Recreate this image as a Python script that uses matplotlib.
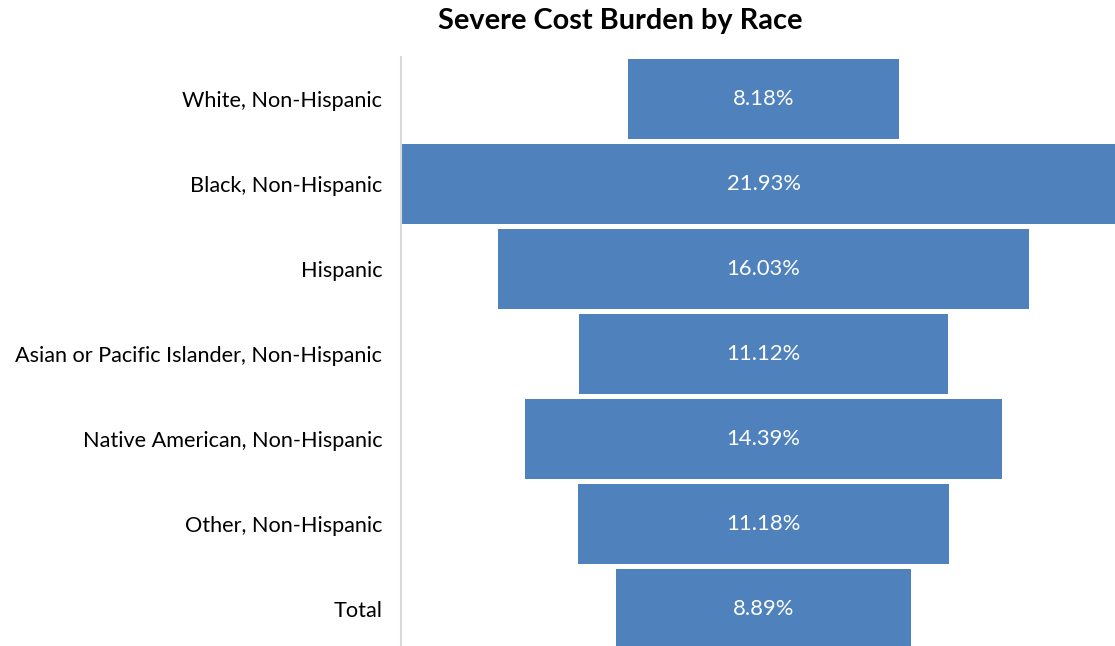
import matplotlib
matplotlib.use("Agg")
import matplotlib.pyplot as plt

categories = ["White, Non-Hispanic", "Black, Non-Hispanic", "Hispanic",
              "Asian or Pacific Islander, Non-Hispanic", "Native American, Non-Hispanic",
              "Other, Non-Hispanic", "Total"]
values = [8.18, 21.93, 16.03, 11.12, 14.39, 11.18, 8.89]
labels = ["8.18%", "21.93%", "16.03%", "11.12%", "14.39%", "11.18%", "8.89%"]
title = "Severe Cost Burden by Race"

plt.rcParams['font.family'] = ['Lato', 'DejaVu Sans']

W, H = 1115, 646
fig = plt.figure(figsize=(W / 100, H / 100), dpi=100)
left, right = 401, 1115
top, bottom = 56.5, 651.5
ax = fig.add_axes([left / W, (H - bottom) / H, (right - left) / W, (bottom - top) / H])

n = len(categories)
ys = list(range(n))
lefts = [-v / 2 for v in values]
ax.barh(ys, values, left=lefts, height=0.94, color="#4F81BD")
for y, lab in zip(ys, labels):
    ax.text(0, y, lab, ha="center", va="center", color="white", fontsize=15.8)

ax.set_xlim(-10.945, 10.61)
ax.set_ylim(n - 0.5, -0.5)
ax.set_yticks(ys)
ax.set_yticklabels(categories, fontsize=15.6)
ax.tick_params(axis="y", length=0, pad=13.5)
ax.set_xticks([])
for s in ["top", "right", "bottom"]:
    ax.spines[s].set_visible(False)
ax.spines["left"].set_color("#d9d9d9")
ax.spines["left"].set_linewidth(1.5)

fig.text(620 / W, 1 - 21 / H, title, ha="center", va="center", fontsize=20.8, fontweight="bold")

fig.savefig("out.png", dpi=100)
